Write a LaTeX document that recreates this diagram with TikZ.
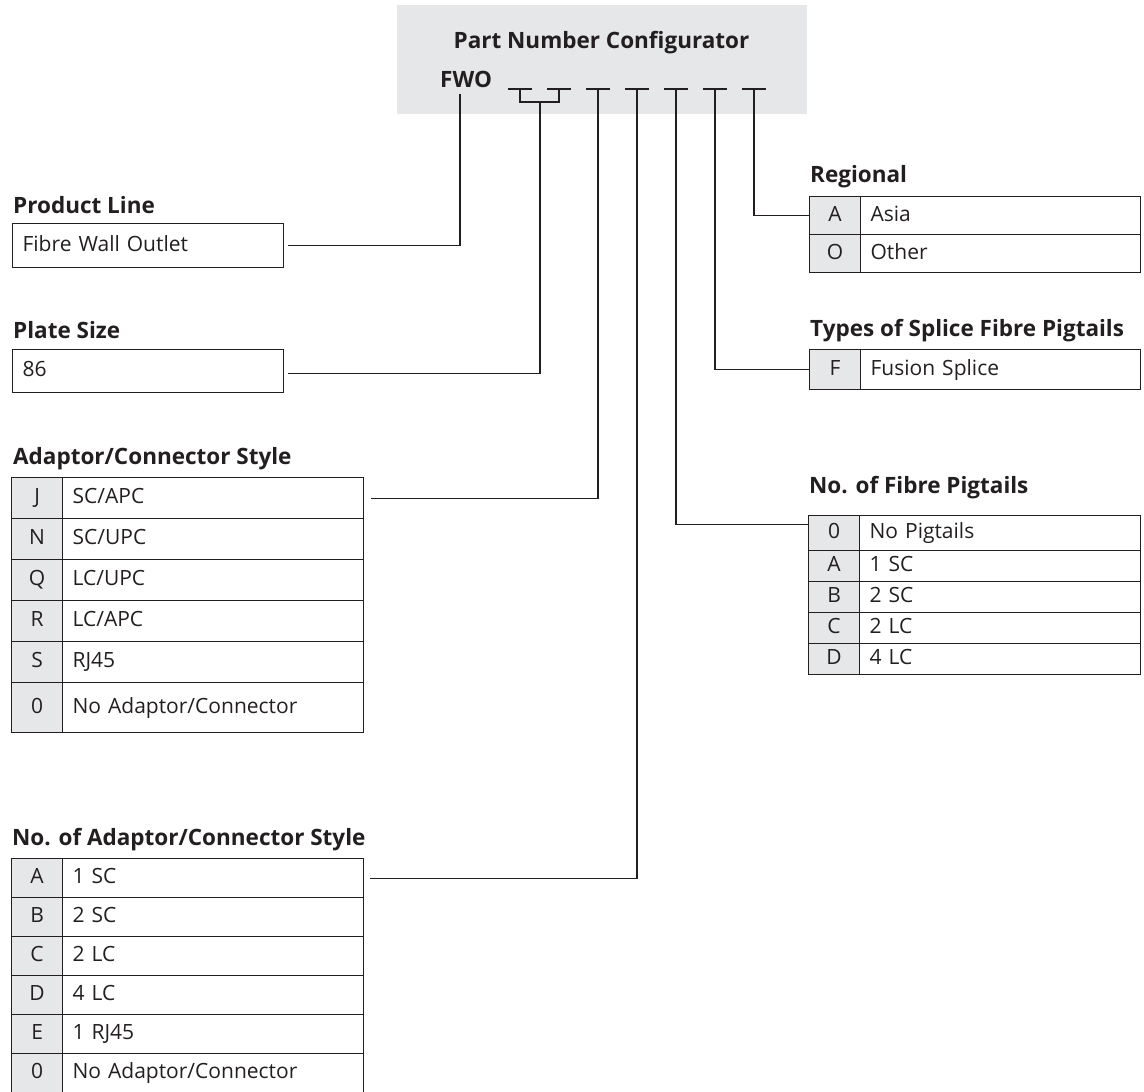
\documentclass[tikz,border=0pt]{standalone}
\usepackage{fontspec}
\setmainfont{Open Sans}
\usetikzlibrary{positioning,calc}
\definecolor{cellgray}{HTML}{E6E7E8}
\definecolor{ink}{HTML}{231F20}
\newcommand{\titlefont}{\bfseries\fontsize{22.5}{26}\selectfont}
\newcommand{\cellfont}{\fontsize{21}{24}\selectfont}

\tikzset{
	title/.style={anchor=base west, inner sep=0pt, text=ink, font=\titlefont},
	cellbase/.style={draw=ink, line width=1.2pt, anchor=north west, inner sep=0pt,
		text=ink, font=\cellfont, text height=15pt, text depth=4pt},
	keycell/.style={cellbase, fill=cellgray, align=center},
	valcell/.style={cellbase, inner xsep=10pt, align=left},
	wire/.style={draw=ink, line width=1.2pt},
	slotdash/.style={draw=ink, line width=1.2pt}
}

\begin{document}
\begin{tikzpicture}[x=1pt,y=-1pt]
		\useasboundingbox (0,0) rectangle (1144,1092);
		
		% header
		\node[fill=cellgray, anchor=north west, minimum width=410, minimum height=109, inner sep=0pt] (header) at (397,5) {};
		\node[anchor=base, inner sep=0pt, text=ink, font=\titlefont] (headertitle) at (601.5,48) {Part Number Configurator};
		\node[title] (fwo) at (440,87) {FWO};
		\coordinate (fwostem) at (460,94);
		\foreach \c [count=\i] in {520,559,598,637,676,715,754}{
			\coordinate (slot\i) at (\c,89);
			\draw[slotdash] ($(slot\i)+(-12,0)$) -- ($(slot\i)+(12,0)$);
		}
		\coordinate (bracket) at (540,102);
		\draw[wire] (slot1) |- (bracket) -| (slot2);
		
		% product line
		\node[title] (linetitle) at (13,213) {Product Line};
		\node[valcell, text width=251, minimum height=44] (linebox) at (12,223) {Fibre Wall Outlet};
		\coordinate (lineend) at ($(linebox.east)+(4,0)$);
		\draw[wire] (fwostem) |- (lineend);
		
		% plate size
		\node[title] (platetitle) at (13,338) {Plate Size};
		\node[valcell, text width=251, minimum height=43] (platebox) at (12,349) {86};
		\coordinate (plateend) at ($(platebox.east)+(4,2)$);
		\draw[wire] (bracket) |- (plateend);
		
		% adaptor/connector style
		\node[title] (styletitle) at (13,464) {Adaptor/Connector Style};
		\foreach \k/\v/\t/\h [count=\i] in {J/{SC/APC}/477/41, N/{SC/UPC}/518/41, Q/{LC/UPC}/559/41,
				R/{LC/APC}/600/41, S/{RJ45}/641/41, 0/{No Adaptor/Connector}/682/50}{
			\node[keycell, minimum width=51, minimum height=\h] (style-key-\i) at (11,\t) {\k};
			\node[valcell, text width=281, minimum height=\h] (style-val-\i) at (62,\t) {\v};
		}
		\coordinate (styleend) at ($(style-val-1.east)+(7,0)$);
		\draw[wire] (slot3) |- (styleend);
		
		% no. of adaptor/connector style
		\node[title] (counttitle) at (12,845) {No. of Adaptor/Connector Style};
		\foreach \k/\v/\t [count=\i] in {A/{1 SC}/858, B/{2 SC}/897, C/{2 LC}/936,
				D/{4 LC}/975, E/{1 RJ45}/1014, 0/{No Adaptor/Connector}/1053}{
			\node[keycell, minimum width=51, minimum height=39] (count-key-\i) at (11,\t) {\k};
			\node[valcell, text width=281, minimum height=39] (count-val-\i) at (62,\t) {\v};
		}
		\coordinate (countend) at ($(count-val-1.east)+(6,0)$);
		\draw[wire] (slot4) |- (countend);
		
		% regional
		\node[title] (regiontitle) at (810,182) {Regional};
		\foreach \k/\v/\t [count=\i] in {A/Asia/196, O/Other/234}{
			\node[keycell, minimum width=51, minimum height=38] (region-key-\i) at (809,\t) {\k};
			\node[valcell, text width=260, minimum height=38] (region-val-\i) at (860,\t) {\v};
		}
		\draw[wire] (slot7) |- (region-key-1.west);
		
		% types of splice fibre pigtails
		\node[title] (splicetitle) at (810,336) {Types of Splice Fibre Pigtails};
		\node[keycell, minimum width=51, minimum height=40] (splice-key-1) at (809,349) {F};
		\node[valcell, text width=260, minimum height=40] (splice-val-1) at (860,349) {Fusion Splice};
		\draw[wire] (slot6) |- (splice-key-1.west);
		
		% no. of fibre pigtails
		\node[title] (tailstitle) at (809,493) {No. of Fibre Pigtails};
		\foreach \k/\v/\t/\h [count=\i] in {0/{No Pigtails}/515/35, A/{1 SC}/550/31, B/{2 SC}/581/31,
				C/{2 LC}/612/31, D/{4 LC}/643/31}{
			\node[keycell, minimum width=51, minimum height=\h] (tails-key-\i) at (808,\t) {\k};
			\node[valcell, text width=261, minimum height=\h] (tails-val-\i) at (859,\t) {\v};
		}
		\draw[wire] (slot5) |- ([yshift=9pt]tails-key-1.west);
	\end{tikzpicture}
\end{document}
